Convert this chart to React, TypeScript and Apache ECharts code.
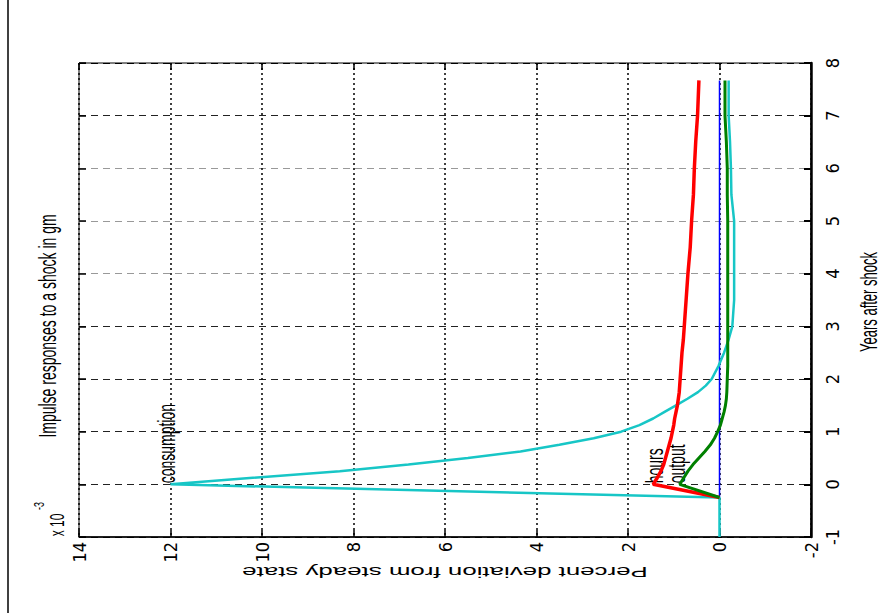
import React, { useEffect, useRef } from "react";
import * as echarts from "echarts";

// Years after shock (vertical axis in the rotated picture)
const years = [-1, -0.25, 0, 0.125, 0.25, 0.375, 0.5, 0.625, 0.75, 0.875, 1, 1.125, 1.25, 1.375, 1.5, 1.625, 1.75, 1.875, 2, 2.25, 2.5, 2.75, 3, 3.5, 4, 4.5, 5, 5.5, 6, 6.5, 7, 7.67];
// Percent deviation from steady state (x 10^-3)
const consumption = [0, 0, 12, 10.2, 8.3, 6.8, 5.5, 4.35, 3.5, 2.75, 2.15, 1.75, 1.45, 1.2, 0.95, 0.7, 0.47, 0.3, 0.17, 0.02, -0.1, -0.2, -0.28, -0.32, -0.32, -0.32, -0.32, -0.26, -0.25, -0.23, -0.2, -0.2];
const hours = [null, 0, 1.45, 1.36, 1.28, 1.22, 1.18, 1.14, 1.1, 1.06, 1.03, 1.0, 0.98, 0.95, 0.92, 0.9, 0.88, 0.87, 0.86, 0.84, 0.82, 0.79, 0.77, 0.73, 0.69, 0.64, 0.61, 0.57, 0.55, 0.52, 0.48, 0.45];
const output = [null, 0, 0.87, 0.78, 0.69, 0.58, 0.45, 0.32, 0.2, 0.11, 0.04, -0.02, -0.06, -0.1, -0.13, -0.15, -0.16, -0.165, -0.17, -0.18, -0.18, -0.18, -0.18, -0.18, -0.18, -0.18, -0.18, -0.17, -0.17, -0.15, -0.12, -0.12];
const zeroLine = [null, 0, 0, 0, 0, 0, 0, 0, 0, 0, 0, 0, 0, 0, 0, 0, 0, 0, 0, 0, 0, 0, 0, 0, 0, 0, 0, 0, 0, 0, 0, 0];

const percentTicks = { min: -2, max: 14, interval: 2 };
const yearTicks = { min: -1, max: 8, interval: 1 };

const titleText = "Impulse responses to a shock in gm";
const xName = "Percent deviation from steady state";
const yName = "Years after shock";
const labels = [
  { text: "consumption", value: 12, year: 0, dx: -4 },
  { text: "hours", value: 1.45, year: 0, dx: 1 },
  { text: "output", value: 0.87, year: 0, dx: -3 },
];

const FONT = "'Liberation Sans', Arial, Helvetica, sans-serif";
const NARROW = "'Liberation Sans Narrow', 'Arial Narrow', 'DejaVu Sans Condensed', 'Liberation Sans', sans-serif";
const yLineColors = ["#000", "#222", "#222", "#222", "#222", "#999", "#999", "#999", "#222", "#000"];

const pairs = (vals: (number | null)[]) =>
  years.map((y, i) => [vals[i], y]).filter((p) => p[0] !== null);

export default function App() {
  const ref = useRef<HTMLDivElement>(null);
  useEffect(() => {
    if (!ref.current) return;
    const chart = echarts.init(ref.current, null, { renderer: "svg" });
    const tickStyle = { color: "#000", width: 1.5 };
    const option: any = {
      animation: false,
      backgroundColor: "#fff",
      grid: {
        left: 79, top: 63, width: 732, height: 474,
        show: true, borderColor: "#000", borderWidth: 1, backgroundColor: "transparent",
        containLabel: false, outerBoundsMode: "none",
      },
      xAxis: [
        {
          type: "value", ...percentTicks, inverse: true, position: "bottom",
          axisLine: { show: true, onZero: false, lineStyle: { color: "#000", width: 1.5 } },
          axisTick: { show: true, inside: true, length: 7, lineStyle: tickStyle },
          axisLabel: {
            show: true, rotate: 90, margin: 5, color: "#000", fontSize: 18, fontFamily: NARROW,
            showMinLabel: true, showMaxLabel: true, hideOverlap: false,
          },
          splitLine: { show: true, lineStyle: { color: "#000", type: [2, 3], width: 1.5 } },
        },
        {
          type: "value", ...percentTicks, inverse: true, position: "top",
          axisLine: { show: false, onZero: false },
          axisTick: { show: true, inside: true, length: 7, lineStyle: tickStyle },
          axisLabel: { show: false },
          splitLine: { show: false },
        },
      ],
      yAxis: [
        {
          type: "value", ...yearTicks, position: "right",
          axisLine: { show: true, onZero: false, lineStyle: { color: "#000", width: 2.5 } },
          axisTick: { show: true, inside: true, length: 7, lineStyle: { color: "#000", width: 2 } },
          axisLabel: {
            show: true, rotate: 90, margin: 12, color: "#000", fontSize: 18, fontFamily: NARROW,
            showMinLabel: true, showMaxLabel: true, hideOverlap: false,
          },
          splitLine: {
            show: true, showMinLine: true, showMaxLine: true,
            lineStyle: { color: yLineColors, type: [7, 5], width: 1.2 },
          },
        },
        {
          type: "value", ...yearTicks, position: "left",
          axisLine: { show: false, onZero: false },
          axisTick: { show: true, inside: true, length: 7, lineStyle: tickStyle },
          axisLabel: { show: false },
          splitLine: { show: false },
        },
      ],
      series: [
        { name: "zero", data: pairs(zeroLine), color: "#0000ff", width: 1.5 },
        { name: "consumption", data: pairs(consumption), color: "#17c6c6", width: 2.5 },
        { name: "hours", data: pairs(hours), color: "#ff0000", width: 3.5 },
        { name: "output", data: pairs(output), color: "#008000", width: 3 },
      ].map((s) => ({
        type: "line", name: s.name, data: s.data, xAxisIndex: 0, yAxisIndex: 0,
        showSymbol: false, symbol: "none", silent: true, clip: true,
        lineStyle: { color: s.color, width: s.width }, itemStyle: { color: s.color },
        emphasis: { disabled: true },
      })),
    };
    chart.setOption(option);

    const annot = labels.map((l) => {
      const p = chart.convertToPixel({ seriesIndex: 0 }, [l.value, l.year]) as number[];
      return {
        type: "text", x: p[0] + l.dx, y: p[1] - 1, rotation: Math.PI / 2, scaleY: 1.7,
        style: { text: l.text, fontSize: 14, fontFamily: FONT, fill: "#000", align: "left", verticalAlign: "middle" },
      };
    });
    chart.setOption({
      graphic: [
        { type: "line", shape: { x1: 8, y1: 0, x2: 8, y2: 613 }, style: { stroke: "#000", lineWidth: 1.5 } },
        {
          type: "text", x: 47, y: 326, rotation: Math.PI / 2, scaleY: 1.7,
          style: { text: titleText, fontSize: 14, fontFamily: FONT, fill: "#000", align: "center", verticalAlign: "middle" },
        },
        {
          type: "text", x: 869, y: 302, rotation: Math.PI / 2, scaleY: 1.8,
          style: { text: yName, fontSize: 13, fontFamily: FONT, fill: "#000", align: "center", verticalAlign: "middle" },
        },
        {
          type: "text", x: 445, y: 572, rotation: Math.PI, scaleX: 1.85,
          style: { text: xName, fontSize: 14, fontFamily: FONT, fill: "#000", align: "center", verticalAlign: "middle" },
        },
        {
          type: "text", x: 57, y: 525, rotation: Math.PI / 2, scaleY: 1.7,
          style: { text: "x 10", fontSize: 12, fontFamily: FONT, fill: "#000", align: "center", verticalAlign: "middle" },
        },
        {
          type: "text", x: 39, y: 506, rotation: Math.PI / 2, scaleY: 1.7,
          style: { text: "-3", fontSize: 9, fontFamily: FONT, fill: "#000", align: "center", verticalAlign: "middle" },
        },
        ...annot,
      ],
    });
    return () => chart.dispose();
  }, []);
  return <div ref={ref} style={{ position: "absolute", left: 0, top: 0, width: 881, height: 615 }} />;
}
